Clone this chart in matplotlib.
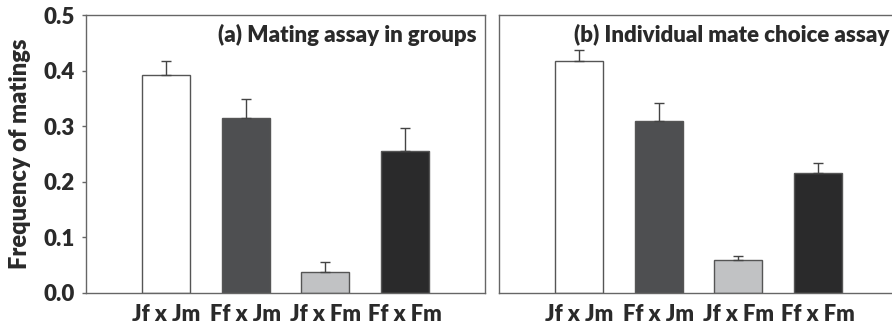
import numpy as np
import matplotlib.pyplot as plt

plt.rcParams['font.family'] = ['Lato', 'DejaVu Sans']
plt.rcParams['font.weight'] = 'bold'

crosses = ['Jf x Jm', 'Ff x Jm', 'Jf x Fm', 'Ff x Fm']
groups_mean = [0.393, 0.315, 0.037, 0.255]
groups_err = [0.025, 0.034, 0.019, 0.041]
individual_mean = [0.418, 0.309, 0.060, 0.215]
individual_err = [0.020, 0.033, 0.007, 0.018]
bar_colors = ['#ffffff', '#4e4f51', '#c1c2c4', '#2a2a2b']

txt = '#2a2a2a'
edge = '#666666'

fig = plt.figure(figsize=(8.92, 3.27), dpi=100)
ax1 = fig.add_axes([0.0964, 0.104, 0.4473, 0.850])
ax2 = fig.add_axes([0.5594, 0.104, 0.4473, 0.850])

x = np.arange(1, 5)
panels = [(ax1, groups_mean, groups_err, '(a) Mating assay in groups'),
          (ax2, individual_mean, individual_err, '(b) Individual mate choice assay')]

for ax, m, e, title in panels:
    ax.bar(x, m, width=0.6, color=bar_colors, edgecolor='#555555', linewidth=1.0, zorder=2)
    ax.errorbar(x, m, yerr=[np.zeros(4), e], fmt='none', ecolor='#444444',
                elinewidth=1.0, capsize=3.3, capthick=1.0, zorder=3)
    ax.set_xlim(0, 5)
    ax.set_ylim(0, 0.5)
    ax.set_xticks(x)
    ax.set_xticklabels(crosses, fontsize=15.8, color=txt, fontweight='heavy')
    ax.tick_params(axis='x', length=0, pad=8)
    for s in ax.spines.values():
        s.set_color(edge)
        s.set_linewidth(1.0)
    ax.text(0.978, 0.93, title, transform=ax.transAxes, ha='right', va='center',
            fontsize=16, color=txt, fontweight='heavy')

ax1.set_yticks([0.0, 0.1, 0.2, 0.3, 0.4, 0.5])
ax1.set_yticklabels(['0.0', '0.1', '0.2', '0.3', '0.4', '0.5'], fontsize=16,
                    color=txt, fontweight='heavy')
ax1.tick_params(axis='y', length=3, width=1, color=edge, pad=5)
ax1.set_ylabel('Frequency of matings', fontsize=17, color=txt, fontweight='heavy', labelpad=9)

ax2.set_yticks([])

fig.savefig('out.png', dpi=100)
